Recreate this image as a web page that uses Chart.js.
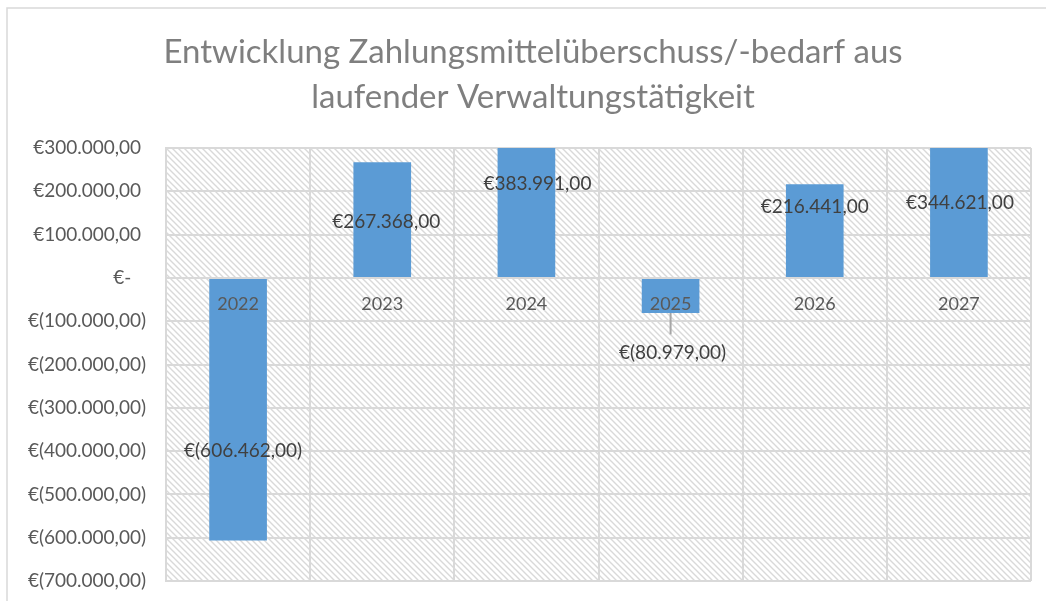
<!DOCTYPE html>
<html>
<head>
<meta charset="utf-8">
<script src="https://cdn.jsdelivr.net/npm/chart.js@4"></script>
<style>
  html, body { margin: 0; background: #fff; }
  #wrap { position: relative; width: 1046px; height: 601px; }
</style>
</head>
<body>
<div id="wrap"><canvas id="chart"></canvas></div>
<script>
const titleLines = ['Entwicklung Zahlungsmittelüberschuss/-bedarf aus', 'laufender Verwaltungstätigkeit'];
const years = ['2022', '2023', '2024', '2025', '2026', '2027'];
const cashflow = [-606462, 267368, 383991, -80979, 216441, 344621];
const yMin = -700000;
const yMax = 300000;
const yStep = 100000;

// euro accounting format like in Excel: €1.234,00 / €(1.234,00) / €-
function euro(v) {
    if (v === 0) return '€-';
    const abs = Math.abs(v);
    const whole = Math.floor(abs).toString().replace(/\B(?=(\d{3})+(?!\d))/g, '.');
    const cents = Math.round((abs - Math.floor(abs)) * 100).toString().padStart(2, '0');
    const s = whole + ',' + cents;
    return v < 0 ? '€(' + s + ')' : '€' + s;
}

function makeHatch() {
    const c = document.createElement('canvas');
    c.width = 6;
    c.height = 6;
    const g = c.getContext('2d');
    g.fillStyle = '#ffffff';
    g.fillRect(0, 0, 6, 6);
    g.strokeStyle = '#d9d9d9';
    g.lineWidth = 1.4;
    g.beginPath();
    [-6, 0, 6].forEach(k => {
        g.moveTo(k - 1, -1);
        g.lineTo(k + 7, 7);
    });
    g.stroke();
    return g.createPattern(c, 'repeat');
}

const hatchBackground = {
    id: 'hatchBackground',
    beforeDraw(chart) {
        const { ctx, chartArea: a } = chart;
        ctx.save();
        // outer chart frame (only top and left visible)
        ctx.strokeStyle = '#d9d9d9';
        ctx.lineWidth = 1.5;
        ctx.strokeRect(7, 8, chart.width + 20, chart.height + 20);
        ctx.fillStyle = makeHatch();
        ctx.fillRect(a.left, a.top, a.right - a.left, a.bottom - a.top);
        ctx.restore();
    }
};

// data labels, placed where they sit in the original (in axis units)
const barLabels = {
    id: 'barLabels',
    afterDatasetsDraw(chart, args, opts) {
        const { ctx } = chart;
        const y = chart.scales.y;
        const meta = chart.getDatasetMeta(0);
        ctx.save();
        ctx.font = '19px Lato';
        ctx.fillStyle = '#404040';
        ctx.textAlign = 'center';
        ctx.textBaseline = 'middle';
        meta.data.forEach((bar, i) => {
            const ly = y.getPixelForValue(opts.at[i]);
            if (opts.leader.includes(i)) {
                ctx.strokeStyle = '#a6a6a6';
                ctx.lineWidth = 2;
                ctx.beginPath();
                ctx.moveTo(bar.x, y.getPixelForValue(cashflow[i]));
                ctx.lineTo(bar.x, ly - 18);
                ctx.stroke();
            }
            ctx.fillText(euro(cashflow[i]), bar.x + opts.dx[i], ly);
        });
        ctx.restore();
    }
};

new Chart(document.getElementById('chart'), {
    type: 'bar',
    data: {
        labels: years,
        datasets: [{
            data: cashflow,
            backgroundColor: '#5b9bd5',
            barPercentage: 0.4,
            categoryPercentage: 1
        }]
    },
    plugins: [hatchBackground, barLabels],
    options: {
        responsive: true,
        maintainAspectRatio: false,
        animation: false,
        layout: { padding: { left: 20, right: 0, top: 0, bottom: 20 } },
        plugins: {
            legend: { display: false },
            tooltip: { enabled: false },
            title: {
                display: true,
                text: titleLines,
                color: '#7f7f7f',
                font: { family: 'Lato', size: 33, weight: 'normal', lineHeight: 45 / 33 },
                padding: { top: 30, bottom: 28 }
            },
            barLabels: {
                at: [-400000, 130000, 217000, -172000, 163000, 173000],
                dx: [5, 4, 11, 2, 0, 1],
                leader: [3]
            }
        },
        scales: {
            x: {
                position: { y: 0 },
                afterFit(scale) {
                    scale.height = 0;
                    scale.paddingLeft = 0;
                    scale.paddingRight = 15;
                },
                grid: { color: '#d9d9d9', lineWidth: 2, drawTicks: false, offset: true },
                border: { color: '#d9d9d9', width: 2 },
                ticks: { z: 1, color: '#595959', font: { family: 'Lato', size: 18 }, padding: 15 }
            },
            y: {
                min: yMin,
                max: yMax,
                afterFit(scale) {
                    scale.width = 146;
                    scale.paddingTop = 0;
                    scale.paddingBottom = 0;
                },
                grid: { color: '#d9d9d9', lineWidth: 2, drawTicks: false },
                border: { color: '#d9d9d9', width: 2 },
                ticks: {
                    stepSize: yStep,
                    color: '#595959',
                    font: { family: 'Lato', size: 19 },
                    padding: 20,
                    callback: v => v === 0 ? euro(v) + '   ' : v > 0 ? euro(v) + ' ' : euro(v)
                }
            }
        }
    }
});
</script>
</body>
</html>
